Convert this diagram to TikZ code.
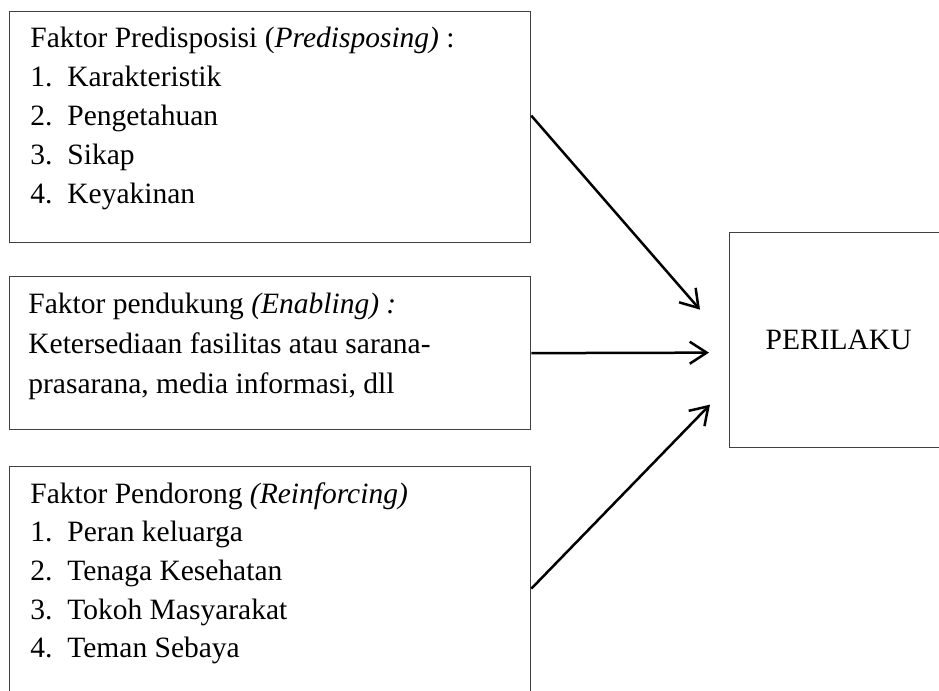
\documentclass[tikz,border=0pt]{standalone}
\usepackage{fontspec}
\setmainfont{Liberation Serif}
\usetikzlibrary{arrows.meta}

\begin{document}
\begin{tikzpicture}[
		x=0.5pt, y=-0.5pt,
		box/.style={draw=black!75, line width=0.65pt, rectangle, anchor=north west, inner sep=0pt},
		txt/.style={anchor=base west, inner sep=0pt, font=\fontsize{14.75}{19.5}\selectfont},
		arrow/.style={draw, line width=1.25pt, -{Straight Barb[length=8.5pt,width=11pt]}}
	]
	\useasboundingbox (0,0) rectangle (939,691);
	\clip (0,0) rectangle (939,691);

	% boxes
	\node[box, minimum width=260.5pt, minimum height=115.5pt] (predis) at (9,11) {};
	\node[box, minimum width=260.5pt, minimum height=76.5pt] (pendukung) at (9,276) {};
	\node[box, minimum width=260.5pt, minimum height=115.5pt] (pendorong) at (9,466) {};
	\node[box, minimum width=109pt, minimum height=107.5pt] (perilaku) at (729,232) {};
	\node[txt, anchor=center] (perilaku-txt) at (perilaku.center) {PERILAKU};

	% Predisposing
	\node[txt] (predis-0) at (30,47) {Faktor Predisposisi (\textit{Predisposing)} :};
	\foreach \t [count=\i] in {Karakteristik,Pengetahuan,Sikap,Keyakinan} {
		\node[txt] (predis-n\i) at (30, 47 + \i * 39) {\i.};
		\node[txt] (predis-\i) at (67, 47 + \i * 39) {\t};
	}

	% Enabling
	\node[txt] (pendukung-0) at (28,313) {Faktor pendukung \textit{(Enabling) :}};
	\node[txt] (pendukung-1) at (28,353) {Ketersediaan fasilitas atau sarana-};
	\node[txt] (pendukung-2) at (28,393) {prasarana, media informasi, dll};

	% Reinforcing
	\node[txt] (pendorong-0) at (30,503) {Faktor Pendorong \textit{(Reinforcing)}};
	\foreach \t [count=\i] in {Peran keluarga,Tenaga Kesehatan,Tokoh Masyarakat,Teman Sebaya} {
		\node[txt] (pendorong-n\i) at (30, 503 + \i * 38.7) {\i.};
		\node[txt] (pendorong-\i) at (67, 503 + \i * 38.7) {\t};
	}

	% arrows
	\draw[arrow] ([yshift=5.75pt]predis.east) -- ([xshift=-14.5pt, yshift=15.25pt]perilaku.west);
	\draw[arrow] (pendukung.east) -- ([xshift=-10pt, yshift=-6.25pt]perilaku.west);
	\draw[arrow] ([yshift=-3.25pt]pendorong.east) -- ([xshift=-9.5pt, yshift=-32.25pt]perilaku.west);

\end{tikzpicture}
\end{document}
